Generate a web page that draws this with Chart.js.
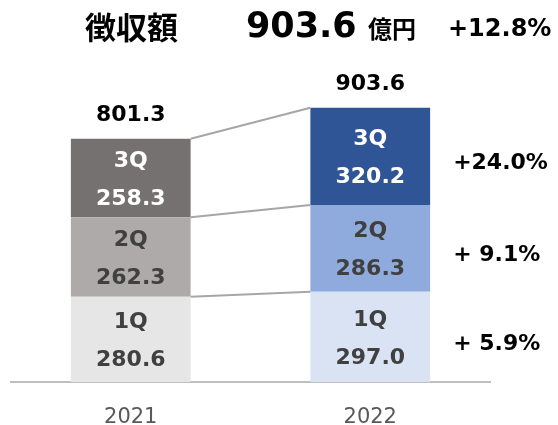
<!DOCTYPE html>
<html>
<head>
<meta charset="utf-8">
<script src="https://cdn.jsdelivr.net/npm/chart.js@4"></script>
<style>
  html, body { margin: 0; padding: 0; background: #fff; }
  #wrap { width: 558px; height: 425px; }
</style>
</head>
<body>
<div id="wrap"><canvas id="taxChart" width="558" height="425"></canvas></div>
<script>
const years = ['2021', '2022'];
const quarterNames = ['1Q', '2Q', '3Q'];
const q1 = [280.6, 297.0];
const q2 = [262.3, 286.3];
const q3 = [258.3, 320.2];
const totals = ['801.3', '903.6'];
const growth = ['+ 5.9%', '+ 9.1%', '+24.0%'];
const headline = { label: '徴収額', value: '903.6', unit: '億円', change: '+12.8%' };

const grayShades = ['#E7E6E6', '#AEAAAA', '#767171'];
const blueShades = ['#DAE3F3', '#8FAADC', '#2F5597'];
const textColors = ['#404040', '#404040', '#FFFFFF'];

const LATIN = '"DejaVu Sans", "Noto Sans CJK JP", sans-serif';
const CJK = '"Noto Sans CJK JP", "DejaVu Sans", sans-serif';

const series = [q1, q2, q3];
const datasets = series.map((vals, i) => ({
    label: quarterNames[i],
    data: vals,
    backgroundColor: [grayShades[i], blueShades[i]],
    borderWidth: 0,
    barPercentage: 0.5,
    categoryPercentage: 1.0
}));

// connectors, labels in bars, totals, growth rates and header
const overlay = {
    id: 'overlay',
    afterDatasetsDraw(chart) {
        const ctx = chart.ctx;
        const metas = [0, 1, 2].map(i => chart.getDatasetMeta(i));

        // lines joining stack tops
        ctx.save();
        ctx.strokeStyle = '#A6A6A6';
        ctx.lineWidth = 2;
        metas.forEach(m => {
            const a = m.data[0], b = m.data[1];
            ctx.beginPath();
            ctx.moveTo(a.x + a.width / 2, a.y);
            ctx.lineTo(b.x - b.width / 2, b.y);
            ctx.stroke();
        });
        ctx.restore();

        ctx.save();
        ctx.textAlign = 'center';
        ctx.textBaseline = 'middle';
        ctx.font = 'bold 22px ' + LATIN;
        metas.forEach((m, i) => {
            m.data.forEach((bar, j) => {
                const mid = (bar.y + bar.base) / 2 + 2;
                ctx.fillStyle = textColors[i];
                ctx.fillText(quarterNames[i], bar.x, mid - 19);
                ctx.fillText(series[i][j].toFixed(1), bar.x, mid + 19);
            });
        });

        // totals above bars
        ctx.fillStyle = '#000';
        metas[2].data.forEach((bar, j) => {
            ctx.fillText(totals[j], bar.x, bar.y - 23);
        });

        // growth rates right of 2022 bar
        ctx.textAlign = 'left';
        ctx.font = 'bold 22px ' + LATIN;
        metas.forEach((m, i) => {
            const bar = m.data[1];
            ctx.fillText(growth[i], bar.x + bar.width / 2 + 23, (bar.y + bar.base) / 2 + 7);
        });

        // header
        ctx.textBaseline = 'alphabetic';
        ctx.font = 'bold 31px ' + CJK;
        ctx.fillText(headline.label, 85, 39);
        ctx.font = 'bold 35px ' + LATIN;
        ctx.fillText(headline.value, 246, 37);
        ctx.font = 'bold 24px ' + CJK;
        ctx.fillText(headline.unit, 368, 38);
        ctx.font = 'bold 24px ' + LATIN;
        ctx.fillText(headline.change, 448, 36);
        ctx.restore();
    }
};

const config = {
    type: 'bar',
    data: { labels: years, datasets: datasets },
    options: {
        responsive: false,
        animation: false,
        layout: { padding: { left: 11, right: 68, top: 48, bottom: 0 } },
        plugins: { legend: { display: false }, tooltip: { enabled: false } },
        scales: {
            x: {
                stacked: true,
                grid: { display: false, drawTicks: false },
                border: { color: '#BFBFBF', width: 2 },
                ticks: { color: '#595959', font: { family: LATIN, size: 21 }, padding: 23 },
                afterFit(scale) { scale.height = 43; }
            },
            y: {
                stacked: true,
                display: false,
                min: 0,
                max: 1100
            }
        }
    },
    plugins: [overlay]
};

window.onload = function() {
    const ctx = document.getElementById('taxChart').getContext('2d');
    new Chart(ctx, config);
};
</script>
</body>
</html>
